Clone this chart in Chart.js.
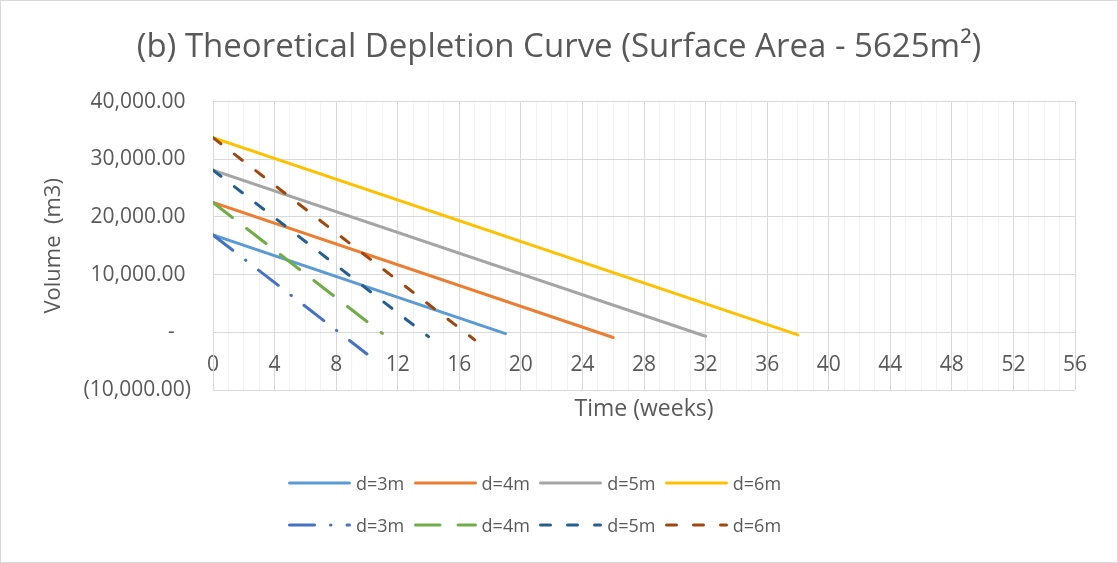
<!DOCTYPE html>
<html>
<head>
<meta charset="utf-8">
<script src="https://cdn.jsdelivr.net/npm/chart.js@4.4.1/dist/chart.umd.min.js"></script>
<style>
  body { margin: 0; background: #fff; font-family: 'Open Sans', sans-serif; }
  #wrap { position: relative; width: 1118px; height: 563px; box-sizing: border-box; border: 1px solid #d9d9d9; }
  #legend { position: absolute; left: 287px; top: 461px; }
  .row { display: flex; height: 42px; align-items: center; }
  .item { display: flex; align-items: center; width: 125.6px; }
  .item svg { display: block; }
  .item span { margin-left: 5px; font-size: 18px; color: #595959; }
</style>
</head>
<body>
<div id="wrap">
  <canvas id="mychart"></canvas>
  <div id="legend"></div>
</div>
<script>
var depths = ['d=3m', 'd=4m', 'd=5m', 'd=6m']

// solid lines (weeks 0 -> end)
var solidStart   = [16875, 22500, 28125, 33750]
var solidEndWeek = [19, 26, 32, 38]
var solidEnd     = [-225, -900, -675, -450]

// dashed lines (weeks 0 -> end)
var dashStart   = [16875, 22500, 28125, 33750]
var dashEndWeek = [10, 11, 14, 17]
var dashEnd     = [-3750, -187.5, -750, -1312.5]

var solidColors = ['#5B9BD5', '#ED7D31', '#A5A5A5', '#FFC000']
var dashColors  = ['#4472C4', '#70AD47', '#255E91', '#9E480E']
var dashStyles  = [[25, 16, 0.5, 16], [24.5, 18], [10, 17], [10, 17]]

var weekMin = 0, weekMax = 56, weekLabelStep = 4
var volMin = -10000, volMax = 40000, volStep = 10000

function money(v) {
    return Math.abs(v).toLocaleString('en-US', {minimumFractionDigits: 2, maximumFractionDigits: 2})
}
function fmtVol(v) {
    if (v === 0) return '-   '
    if (v < 0) return '(' + money(v) + ')'
    return money(v) + ' '
}

var datasets = []
depths.forEach(function(d, i) {
    datasets.push({
        label: d,
        data: [{x: 0, y: solidStart[i]}, {x: solidEndWeek[i], y: solidEnd[i]}],
        borderColor: solidColors[i],
        borderWidth: 3,
        borderCapStyle: 'round',
        order: 2
    })
})
depths.forEach(function(d, i) {
    datasets.push({
        label: d,
        data: [{x: 0, y: dashStart[i]}, {x: dashEndWeek[i], y: dashEnd[i]}],
        borderColor: dashColors[i],
        borderWidth: 3,
        borderDash: dashStyles[i],
        borderCapStyle: 'round',
        order: 1
    })
})

Chart.defaults.font.family = "'Open Sans', sans-serif"
Chart.defaults.color = '#595959'

var ctx = document.getElementById('mychart').getContext('2d')
var chart = new Chart(ctx, {
    type: 'scatter',
    data: {datasets: datasets},
    options: {
        responsive: true,
        maintainAspectRatio: false,
        animation: false,
        showLine: true,
        elements: {point: {radius: 0, hoverRadius: 0}, line: {tension: 0}},
        layout: {padding: {left: 0, right: 0, top: 0, bottom: 172}},
        plugins: {
            legend: {display: false},
            tooltip: {enabled: false},
            title: {
                display: true,
                text: '(b) Theoretical Depletion Curve (Surface Area - 5625m\u00B2)',
                font: {size: 33, weight: 'normal'},
                color: '#595959',
                padding: {top: 27, bottom: 34}
            }
        },
        scales: {
            x: {
                type: 'linear',
                min: weekMin, max: weekMax,
                position: {y: 0},
                ticks: {
                    stepSize: 1, autoSkip: false, maxRotation: 0, padding: 20,
                    font: {size: 21},
                    callback: function(v) { return v % weekLabelStep === 0 ? v : '' }
                },
                grid: {
                    drawTicks: false,
                    color: function(c) { return c.tick && c.tick.value % weekLabelStep === 0 ? '#d9d9d9' : '#f2f2f2' }
                },
                border: {color: '#d9d9d9'},
                title: {display: true, text: 'Time (weeks)', font: {size: 23}, padding: {top: 0, bottom: 9}},
                afterFit: function(s) { s.height = 100 }
            },
            y: {
                min: volMin, max: volMax,
                ticks: {stepSize: volStep, padding: 22, font: {size: 21}, callback: fmtVol},
                grid: {drawTicks: false, color: '#d9d9d9'},
                border: {color: '#d9d9d9'},
                title: {display: true, text: 'Volume  (m3)', font: {size: 22}, padding: {top: 40, bottom: 0}},
                afterFit: function(s) { s.width = 212 }
            },
            // empty right margin, keeps the title centred on the whole chart
            yRight: {
                position: 'right',
                grid: {display: false},
                border: {display: false},
                ticks: {display: false},
                afterFit: function(s) { s.width = 42 }
            }
        }
    }
})

// legend in two rows, like the original
var legend = document.getElementById('legend')
for (var r = 0; r < 2; r++) {
    var row = document.createElement('div')
    row.className = 'row'
    for (var i = 0; i < 4; i++) {
        var ds = chart.data.datasets[r * 4 + i]
        var dash = ds.borderDash ? ds.borderDash.join(' ') : 'none'
        var item = document.createElement('div')
        item.className = 'item'
        item.innerHTML = '<svg width="63" height="6"><line x1="1.5" y1="3" x2="61.5" y2="3" stroke="' + ds.borderColor +
            '" stroke-width="3" stroke-linecap="round" stroke-dasharray="' + dash + '"/></svg><span>' + ds.label + '</span>'
        row.appendChild(item)
    }
    legend.appendChild(row)
}
</script>
</body>
</html>
